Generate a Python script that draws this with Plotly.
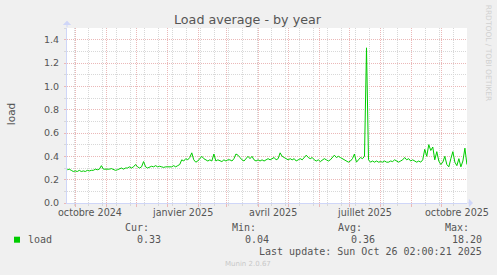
import plotly.graph_objects as go
import pandas as pd

# ---------------- data ----------------
start_date = "2024-09-23"
step_days = 2
load_values = [
    0.285, 0.29, 0.28, 0.27, 0.275, 0.27, 0.28, 0.27, 0.275, 0.27,
    0.28, 0.275, 0.28, 0.28, 0.29, 0.285, 0.29, 0.32, 0.29, 0.29,
    0.285, 0.29, 0.295, 0.29, 0.28, 0.285, 0.29, 0.30, 0.29, 0.30,
    0.30, 0.31, 0.30, 0.31, 0.33, 0.31, 0.30, 0.31, 0.355, 0.31,
    0.30, 0.31, 0.315, 0.31, 0.32, 0.31, 0.315, 0.31, 0.305, 0.31,
    0.31, 0.315, 0.31, 0.32, 0.31, 0.32, 0.33, 0.37, 0.36, 0.38,
    0.37, 0.39, 0.43, 0.37, 0.35, 0.36, 0.38, 0.40, 0.38, 0.37,
    0.36, 0.37, 0.36, 0.42, 0.36, 0.37, 0.36, 0.355, 0.37, 0.36,
    0.37, 0.37, 0.36, 0.38, 0.42, 0.41, 0.39, 0.37, 0.36, 0.38,
    0.40, 0.38, 0.40, 0.37, 0.36, 0.37, 0.36, 0.37, 0.36, 0.37,
    0.38, 0.37, 0.38, 0.39, 0.37, 0.38, 0.43, 0.40, 0.39, 0.38,
    0.37, 0.38, 0.37, 0.38, 0.36, 0.37, 0.38, 0.37, 0.39, 0.41,
    0.39, 0.38, 0.39, 0.37, 0.36, 0.37, 0.355, 0.37, 0.38, 0.37,
    0.36, 0.37, 0.39, 0.41, 0.39, 0.40, 0.39, 0.38, 0.37, 0.36,
    0.35, 0.36, 0.38, 0.42, 0.35, 0.37, 0.39, 0.38, 0.40, 1.33,
    0.37, 0.35, 0.36, 0.35, 0.36, 0.35, 0.355, 0.35, 0.36, 0.35,
    0.35, 0.36, 0.355, 0.37, 0.36, 0.35, 0.36, 0.37, 0.39, 0.37,
    0.38, 0.36, 0.37, 0.36, 0.35, 0.36, 0.35, 0.37, 0.46, 0.40,
    0.50, 0.45, 0.48, 0.37, 0.44, 0.36, 0.33, 0.35, 0.40, 0.33,
    0.31, 0.38, 0.44, 0.35, 0.32, 0.38, 0.31, 0.36, 0.47, 0.33,
]
x_range = ["2024-09-22 18:00", "2025-10-26 02:00"]
y_range = [0, 1.5]
month_label_dates = ["2024-10-16", "2025-01-16", "2025-04-16", "2025-07-16", "2025-10-16"]
month_labels = ["octobre 2024", "janvier 2025", "avril 2025", "juillet 2025", "octobre 2025"]
series_name = "load"
stat_labels = ["Cur:", "Min:", "Avg:", "Max:"]
stat_values = ["0.33", "0.04", "0.36", "18.20"]
title_text = "Load average - by year"
y_title = "load"
last_update = "Last update: Sun Oct 26 02:00:21 2025"
footer = "Munin 2.0.67"
side_text = "RRDTOOL / TOBI OETIKER"

dates = pd.date_range(start_date, periods=len(load_values), freq=f"{step_days}D")

# ---------------- layout geometry ----------------
W_FIG, H_FIG = 497, 275
L, T, PW, PH = 67, 28.3, 400, 175


def px(x):
    return (x - L) / PW


def py(y):
    return (T + PH - y) / PH


TEXT = "#555555"
MONO = "DejaVu Sans Mono"
SANS = "DejaVu Sans"
GREEN = "#00cc00"
AXIS = "#cfd6f8"
MGRID = "#ebb8b8"
GRID = "#d8d8d8"

fig = go.Figure()
fig.add_trace(go.Scatter(x=dates, y=load_values, mode="lines",
                         line=dict(color=GREEN, width=1), name=series_name,
                         showlegend=False, hoverinfo="skip"))

fig.update_layout(
    width=W_FIG, height=H_FIG,
    margin=dict(l=L, r=W_FIG - L - PW, t=T, b=H_FIG - T - PH, pad=0),
    paper_bgcolor="#f0f0f0", plot_bgcolor="#ffffff",
    showlegend=False,
    xaxis=dict(type="date", range=x_range, showticklabels=False,
               dtick="M1", tick0="2024-10-01",
               showgrid=True, gridcolor=MGRID, griddash="1px,1px", gridwidth=1,
               ticks="outside", ticklen=3, tickcolor=MGRID, tickwidth=1,
               showline=True, linecolor=AXIS, linewidth=1,
               zeroline=False, fixedrange=True,
               minor=dict(dtick=14 * 86400000, tick0="2024-09-30",
                          showgrid=True, gridcolor=GRID, griddash="1px,1px",
                          ticks="outside", ticklen=2, tickcolor=GRID)),
    yaxis=dict(range=y_range, dtick=0.2, tick0=0, tickformat=".1f",
               tickfont=dict(family=SANS, size=9.5, color=TEXT),
               showgrid=True, gridcolor=MGRID, griddash="1px,1px", gridwidth=1,
               ticks="outside", ticklen=2, tickcolor=MGRID,
               showline=True, linecolor=AXIS, linewidth=1,
               zeroline=False, fixedrange=True, ticklabelstandoff=3,
               minor=dict(dtick=0.1, showgrid=True, gridcolor=GRID,
                          griddash="1px,1px", ticks="outside", ticklen=2,
                          tickcolor=GRID)),
)

ann = []
# month labels
for d, lab in zip(month_label_dates, month_labels):
    ann.append(dict(x=d, xref="x", y=0, yref="paper", yshift=-9, text=lab,
                    showarrow=False, xanchor="center", yanchor="middle",
                    borderpad=0, font=dict(family=SANS, size=9.6, color=TEXT)))
# title
ann.append(dict(x=px(248.3), y=py(19.5), xref="paper", yref="paper", text=title_text,
                showarrow=False, xanchor="center", yanchor="middle", borderpad=0,
                font=dict(family=SANS, size=12.7, color=TEXT)))
# y title
ann.append(dict(x=px(10.5), y=py(115), xref="paper", yref="paper", text=y_title,
                showarrow=False, xanchor="center", yanchor="middle", textangle=-90,
                borderpad=0, font=dict(family=SANS, size=10.5, color=TEXT)))
# side text
ann.append(dict(x=px(488), y=py(53), xref="paper", yref="paper", text=side_text,
                showarrow=False, xanchor="center", yanchor="middle", textangle=90,
                borderpad=0, font=dict(family=SANS, size=7.5, color="#d0d0d0")))
# legend
ann.append(dict(x=px(26.7), y=py(240), xref="paper", yref="paper", text=series_name,
                showarrow=False, xanchor="left", yanchor="middle", borderpad=0,
                font=dict(family=MONO, size=10, color=TEXT)))
label_right = [150, 256.7, 363.3, 470]
value_right = [162.3, 270, 375.7, 482.7]
for lab, val, xl, xv in zip(stat_labels, stat_values, label_right, value_right):
    ann.append(dict(x=px(xl), y=py(228), xref="paper", yref="paper", text=lab,
                    showarrow=False, xanchor="right", yanchor="middle", borderpad=0,
                    font=dict(family=MONO, size=10, color=TEXT)))
    ann.append(dict(x=px(xv), y=py(240), xref="paper", yref="paper", text=val,
                    showarrow=False, xanchor="right", yanchor="middle", borderpad=0,
                    font=dict(family=MONO, size=10, color=TEXT)))
ann.append(dict(x=px(482.7), y=py(251.3), xref="paper", yref="paper", text=last_update,
                showarrow=False, xanchor="right", yanchor="middle", borderpad=0,
                font=dict(family=MONO, size=10, color=TEXT)))
ann.append(dict(x=px(247.8), y=py(264), xref="paper", yref="paper", text=footer,
                showarrow=False, xanchor="center", yanchor="middle", borderpad=0,
                font=dict(family=SANS, size=7, color="#c8c8c8")))
# axis arrows
ann.append(dict(x=0, y=py(21), xref="paper", yref="paper", text="", showarrow=True,
                ax=0, ay=8, arrowhead=1, arrowsize=1.4, arrowwidth=1, arrowcolor=AXIS))
ann.append(dict(x=px(473), y=0, xref="paper", yref="paper", text="", showarrow=True,
                ax=-7, ay=0, arrowhead=1, arrowsize=1.4, arrowwidth=1, arrowcolor=AXIS))
fig.update_layout(annotations=ann)

# legend colour square
fig.add_shape(type="rect", xref="paper", yref="paper",
              x0=px(14), x1=px(20), y0=py(243), y1=py(237),
              fillcolor=GREEN, line=dict(width=0))

fig.write_html("out.html")
